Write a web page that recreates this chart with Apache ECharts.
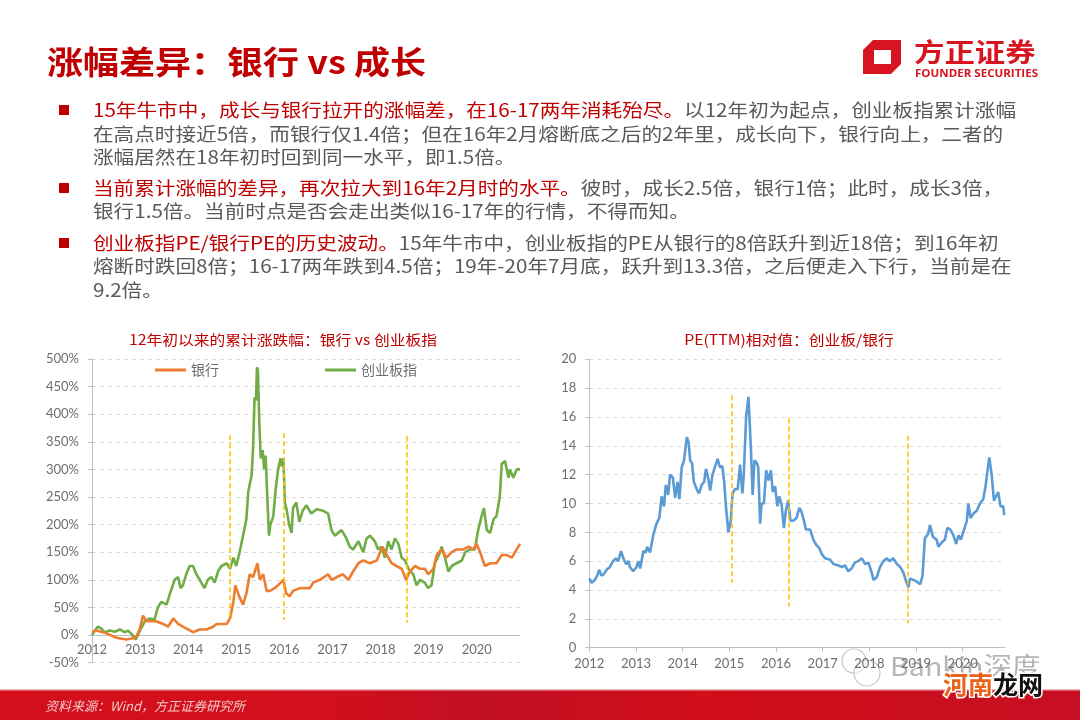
<!DOCTYPE html>
<html><head><meta charset="utf-8">
<script src="https://cdn.jsdelivr.net/npm/echarts@6/dist/echarts.min.js"></script>
<style>html,body{margin:0;padding:0;background:#fff}#c{width:1080px;height:720px}</style>
</head><body><div id="c"></div>
<script>
// ---------- DATA ----------
// Left chart: cumulative change since start of 2012 (%), x = fractional year
const gemYears = [2012.00,2012.06,2012.12,2012.19,2012.26,2012.37,2012.47,2012.58,2012.68,2012.75,2012.82,2012.91,2013.01,2013.10,2013.20,2013.30,2013.37,2013.44,2013.55,2013.62,2013.72,2013.79,2013.84,2013.89,2013.96,2014.03,2014.10,2014.17,2014.24,2014.34,2014.41,2014.48,2014.55,2014.62,2014.69,2014.80,2014.87,2014.94,2015.00,2015.07,2015.14,2015.21,2015.25,2015.32,2015.35,2015.38,2015.41,2015.43,2015.45,2015.48,2015.51,2015.55,2015.58,2015.61,2015.65,2015.68,2015.71,2015.77,2015.82,2015.87,2015.92,2015.95,2015.98,2016.01,2016.04,2016.10,2016.15,2016.18,2016.25,2016.31,2016.38,2016.46,2016.56,2016.67,2016.81,2016.91,2016.98,2017.05,2017.12,2017.19,2017.29,2017.36,2017.43,2017.54,2017.64,2017.71,2017.78,2017.88,2017.95,2018.02,2018.09,2018.16,2018.23,2018.30,2018.37,2018.44,2018.51,2018.58,2018.68,2018.75,2018.82,2018.92,2018.99,2019.06,2019.13,2019.24,2019.27,2019.34,2019.41,2019.48,2019.58,2019.69,2019.76,2019.86,2019.96,2020.03,2020.10,2020.15,2020.21,2020.28,2020.35,2020.41,2020.48,2020.52,2020.59,2020.66,2020.69,2020.76,2020.83,2020.90];
const gemValues = [0,8,15,12,5,8,6,10,5,8,2,-8,10,25,30,28,50,60,55,75,100,105,85,90,110,125,125,110,100,85,100,105,95,115,125,130,120,140,125,150,180,210,260,290,340,430,425,485,480,380,320,335,300,325,240,180,200,215,265,300,320,305,320,240,230,200,185,230,240,205,225,235,220,228,225,220,190,180,185,190,175,160,155,170,150,175,180,170,155,160,140,170,155,175,165,140,135,120,110,90,100,95,85,90,130,150,160,140,115,125,130,135,150,155,155,190,215,230,190,185,210,215,250,310,315,285,300,285,300,300];
const bankYears = [2012.00,2012.09,2012.30,2012.51,2012.71,2012.91,2012.99,2013.06,2013.13,2013.20,2013.34,2013.48,2013.58,2013.69,2013.79,2013.89,2014.00,2014.10,2014.24,2014.38,2014.52,2014.59,2014.80,2014.87,2014.94,2014.98,2015.06,2015.14,2015.21,2015.28,2015.35,2015.44,2015.49,2015.56,2015.63,2015.70,2015.80,2015.87,2015.98,2016.04,2016.11,2016.18,2016.32,2016.53,2016.60,2016.74,2016.91,2016.98,2017.09,2017.22,2017.33,2017.43,2017.54,2017.64,2017.78,2017.92,2018.04,2018.13,2018.23,2018.33,2018.44,2018.53,2018.61,2018.72,2018.82,2018.92,2018.99,2019.10,2019.17,2019.27,2019.37,2019.48,2019.58,2019.72,2019.83,2019.93,2020.00,2020.07,2020.17,2020.28,2020.41,2020.52,2020.62,2020.73,2020.83,2020.90];
const bankValues = [5,8,3,-5,-8,-5,10,35,25,25,25,20,15,30,20,15,10,5,10,10,15,20,20,30,60,90,70,55,75,110,105,130,100,110,80,80,85,90,100,75,70,80,85,85,95,100,110,100,105,110,100,115,130,135,130,135,160,145,130,125,120,100,115,125,120,120,110,120,145,155,140,150,155,155,160,155,165,150,125,130,130,145,145,140,155,165];
// Right chart: PE(TTM) ratio ChiNext / banks
const peYears = [2012.00,2012.05,2012.12,2012.17,2012.21,2012.26,2012.31,2012.37,2012.44,2012.51,2012.57,2012.62,2012.68,2012.73,2012.79,2012.84,2012.87,2012.94,2013.01,2013.05,2013.09,2013.16,2013.21,2013.24,2013.30,2013.37,2013.44,2013.50,2013.55,2013.60,2013.64,2013.69,2013.73,2013.79,2013.84,2013.89,2013.93,2013.98,2014.03,2014.09,2014.13,2014.16,2014.20,2014.24,2014.30,2014.35,2014.41,2014.46,2014.50,2014.55,2014.59,2014.64,2014.69,2014.75,2014.80,2014.85,2014.89,2014.93,2014.98,2015.03,2015.07,2015.12,2015.18,2015.23,2015.28,2015.31,2015.36,2015.41,2015.46,2015.50,2015.54,2015.59,2015.62,2015.66,2015.69,2015.74,2015.79,2015.84,2015.89,2015.93,2015.98,2016.03,2016.07,2016.12,2016.17,2016.21,2016.26,2016.31,2016.37,2016.44,2016.50,2016.55,2016.60,2016.64,2016.73,2016.80,2016.87,2016.93,2016.98,2017.05,2017.16,2017.23,2017.34,2017.41,2017.48,2017.55,2017.62,2017.69,2017.76,2017.84,2017.91,2017.98,2018.05,2018.09,2018.16,2018.23,2018.30,2018.37,2018.44,2018.51,2018.59,2018.66,2018.73,2018.80,2018.84,2018.87,2018.94,2019.01,2019.09,2019.14,2019.19,2019.26,2019.30,2019.36,2019.44,2019.48,2019.55,2019.62,2019.67,2019.73,2019.80,2019.86,2019.91,2019.96,2020.01,2020.09,2020.12,2020.17,2020.23,2020.30,2020.37,2020.44,2020.49,2020.54,2020.57,2020.62,2020.67,2020.71,2020.76,2020.81,2020.87,2020.89];
const peValues = [4.8,4.5,4.7,5.0,5.4,5.0,5.1,5.4,5.6,6.0,6.2,6.0,6.7,6.2,5.8,6.0,5.6,5.3,5.6,6.0,5.5,6.7,6.6,7.0,6.6,7.8,8.6,9.0,10.5,9.8,11.3,10.6,12.0,11.8,10.4,11.5,10.3,12.5,13.0,14.6,14.2,13.0,12.8,11.5,11.0,10.7,11.3,11.5,12.4,11.7,10.9,12.0,12.5,13.1,12.5,12.6,11.5,9.7,8.0,8.8,10.7,11.0,11.0,12.7,10.7,12.0,16.0,17.4,14.0,10.6,13.0,12.8,12.5,8.6,10.0,10.0,12.3,11.6,12.3,10.8,11.2,9.8,10.5,9.9,8.3,9.5,10.2,8.8,8.8,9.0,9.7,9.4,8.8,8.2,8.2,7.5,7.1,6.9,6.5,6.2,6.1,5.8,5.7,5.6,5.7,5.3,5.5,5.9,6.0,6.2,5.8,5.9,5.2,4.7,4.9,5.6,6.0,6.2,6.0,6.2,5.8,5.6,5.2,4.5,4.2,4.8,4.7,4.6,4.4,5.0,7.6,7.9,8.5,7.7,7.5,7.0,7.3,7.5,8.3,8.2,7.8,7.2,7.8,7.5,8.0,8.8,10.0,9.0,9.3,9.5,10.0,10.3,11.2,12.5,13.2,12.0,10.2,10.3,10.8,9.8,9.8,9.2];
// Event marker lines: [year, top value, bottom value]
const leftEvents = [[2014.87, 362, 27], [2015.99, 366, 27], [2018.55, 360, 22]];
const rightEvents = [[2015.05, 17.5, 4.5], [2016.27, 15.9, 2.85], [2018.82, 14.7, 1.7]];
const seriesNames = ['银行', '创业板指', 'PE(TTM)相对值'];
const yearTicks = [2012, 2013, 2014, 2015, 2016, 2017, 2018, 2019, 2020];

// ---------- TEXT ----------
const pageTitle = '涨幅差异：银行 vs 成长';
const leftTitle = '12年初以来的累计涨跌幅：银行 vs 创业板指';
const rightTitle = 'PE(TTM)相对值：创业板/银行';
const sourceText = '资料来源：Wind，方正证券研究所';
const bullets = [
  [['15年牛市中，成长与银行拉开的涨幅差，在16-17两年消耗殆尽。', '以12年初为起点，创业板指累计涨幅'],
   ['', '在高点时接近5倍，而银行仅1.4倍；但在16年2月熔断底之后的2年里，成长向下，银行向上，二者的'],
   ['', '涨幅居然在18年初时回到同一水平，即1.5倍。']],
  [['当前累计涨幅的差异，再次拉大到16年2月时的水平。', '彼时，成长2.5倍，银行1倍；此时，成长3倍，'],
   ['', '银行1.5倍。当前时点是否会走出类似16-17年的行情，不得而知。']],
  [['创业板指PE/银行PE的历史波动。', '15年牛市中，创业板指的PE从银行的8倍跃升到近18倍；到16年初'],
   ['', '熔断时跌回8倍；16-17两年跌到4.5倍；19年-20年7月底，跃升到13.3倍，之后便走入下行，当前是在'],
   ['', '9.2倍。']]
];

// ---------- BUILD ----------
const RED = '#C00000', GRAY = '#595959', AX = '#6e6e6e';
const CJK = '"Noto Sans CJK SC", sans-serif';
const NUM = 'Lato, "Noto Sans", sans-serif';
const SX = 1.125;

const zip = (xs, ys) => xs.map((x, i) => [x, ys[i]]);
const evLines = ev => ev.map(e => [{coord: [e[0], e[1]]}, {coord: [e[0], e[2]]}]);

const graphic = [];
// page title
graphic.push({type: 'text', x: 47, y: 62, scaleX: SX, style: {text: pageTitle, fill: RED, font: 'bold 32px ' + CJK, verticalAlign: 'middle'}});
// bullets
const lineY = [[110, 134, 157], [188, 211], [243, 266, 290]];
bullets.forEach((b, bi) => {
  graphic.push({type: 'rect', shape: {x: 59, y: lineY[bi][0] - 5, width: 10, height: 10}, style: {fill: RED}});
  b.forEach((ln, li) => {
    graphic.push({type: 'text', x: 93, y: lineY[bi][li], scaleX: 1.145, style: {
      text: (ln[0] ? '{r|' + ln[0] + '}' : '') + '{g|' + ln[1] + '}',
      font: '18px ' + CJK, verticalAlign: 'middle',
      rich: {r: {fill: RED, color: RED, fontSize: 18, fontFamily: CJK}, g: {fill: GRAY, color: GRAY, fontSize: 18, fontFamily: CJK}}
    }});
  });
});
// chart titles
graphic.push({type: 'text', x: 283, y: 340, scaleX: SX, style: {text: leftTitle, fill: RED, font: '14px ' + CJK, align: 'center', verticalAlign: 'middle'}});
graphic.push({type: 'text', x: 789, y: 340, scaleX: SX, style: {text: rightTitle, fill: RED, font: '14px ' + CJK, align: 'center', verticalAlign: 'middle'}});
// logo
graphic.push({type: 'polygon', shape: {points: [[873, 40], [901, 40], [901, 64], [891, 74], [863, 74], [863, 50]]}, style: {fill: '#D7141F'}});
graphic.push({type: 'rect', shape: {x: 874, y: 50, width: 17, height: 14}, style: {fill: '#fff'}});
graphic.push({type: 'text', x: 914, y: 52, scaleX: 1.17, style: {text: '方正证券', fill: '#D7141F', font: 'bold 26px ' + CJK, verticalAlign: 'middle'}});
graphic.push({type: 'text', x: 915, y: 74, scaleX: 1.1, style: {text: 'FOUNDER SECURITIES', fill: '#D7141F', font: 'bold 10.5px "Open Sans", sans-serif', verticalAlign: 'middle'}});
// footer band
graphic.push({type: 'rect', shape: {x: 0, y: 690, width: 1080, height: 30}, style: {fill: {type: 'linear', x: 0, y: 0, x2: 1, y2: 0, colorStops: [{offset: 0, color: '#D40F1B'}, {offset: 0.3, color: '#D20F1C'}, {offset: 0.45, color: '#C10F24'}, {offset: 0.65, color: '#D10E1A'}, {offset: 1, color: '#C70F22'}]}}});
graphic.push({type: 'rect', shape: {x: 0, y: 689, width: 1080, height: 1.5}, style: {fill: '#e9b3b6'}});
graphic.push({type: 'text', x: 45, y: 706, style: {text: sourceText, fill: '#f3c6c8', font: 'italic 13px ' + CJK, verticalAlign: 'middle'}});
// watermark
graphic.push({type: 'circle', shape: {cx: 854, cy: 661, r: 12}, style: {fill: 'rgba(255,255,255,0.5)', stroke: '#c8c8c8', lineWidth: 1.2}});
graphic.push({type: 'circle', shape: {cx: 867, cy: 673, r: 13}, style: {fill: 'rgba(255,255,255,0.5)', stroke: '#c8c8c8', lineWidth: 1.2}});
graphic.push({type: 'text', x: 890, y: 666, scaleX: 1.1, style: {text: 'Bankin深度', fill: 'rgba(120,120,120,0.55)', font: '26px ' + CJK, verticalAlign: 'middle'}});
graphic.push({type: 'text', x: 943, y: 684, style: {text: '{a|河南}{b|龙网}', font: 'bold 25px ' + CJK, verticalAlign: 'middle',
  rich: {a: {fill: '#E8641B', stroke: '#fff', lineWidth: 3, fontSize: 25, fontWeight: 'bold', fontFamily: CJK}, b: {fill: '#111', stroke: '#fff', lineWidth: 3, fontSize: 25, fontWeight: 'bold', fontFamily: CJK}}}});

const yearFmt = v => (Math.abs(v - Math.round(v)) < 1e-6 && yearTicks.indexOf(Math.round(v)) >= 0) ? String(Math.round(v)) : '';
const yAxisBase = (gi, min, max, interval, fmt) => ({
  type: 'value', gridIndex: gi, min, max, interval,
  axisLine: {show: true, lineStyle: {color: '#BFBFBF'}},
  axisTick: {show: true, length: 4, lineStyle: {color: '#BFBFBF'}},
  axisLabel: {formatter: fmt, color: AX, fontSize: 13, fontFamily: NUM, margin: 13},
  splitLine: {show: true, lineStyle: {color: '#D9D9D9', type: [4, 4], width: 1}}
});
const markLineCfg = ev => ({
  silent: true, symbol: ['none', 'none'], label: {show: false},
  lineStyle: {color: '#FFC000', type: [5, 3], width: 1.6}, emphasis: {disabled: true},
  data: evLines(ev)
});

const option = {
  animation: false,
  backgroundColor: '#fff',
  textStyle: {fontFamily: CJK},
  grid: [
    {left: 92, top: 359, width: 428, height: 303.6},
    {left: 589.3, top: 359.3, width: 415.4, height: 288.4}
  ],
  legend: {
    data: [seriesNames[0], seriesNames[1]], left: 150, top: 358,
    icon: 'rect', itemWidth: 31, itemHeight: 3, itemGap: 106,
    textStyle: {color: AX, fontSize: 14, fontFamily: CJK}
  },
  xAxis: [
    // left: Excel-style category labels sitting just under the 0% line
    {type: 'value', gridIndex: 0, min: 2012, max: 2020.9, interval: 1,
     axisLine: {show: false}, axisTick: {show: false}, splitLine: {show: false},
     axisLabel: {formatter: yearFmt, color: AX, fontSize: 13, fontFamily: NUM, margin: -19, showMaxLabel: false}},
    {type: 'value', gridIndex: 1, min: 2012, max: 2020.9, interval: 1,
     axisLine: {show: true, lineStyle: {color: '#BFBFBF', width: 1}},
     axisTick: {show: true, length: 4, lineStyle: {color: '#BFBFBF'}}, splitLine: {show: false},
     axisLabel: {formatter: yearFmt, color: AX, fontSize: 13, fontFamily: NUM, margin: 10, showMaxLabel: false}}
  ],
  yAxis: [
    yAxisBase(0, -50, 500, 50, '{value}%'),
    yAxisBase(1, 0, 20, 2, '{value}')
  ],
  graphic: graphic,
  series: [
    {name: seriesNames[0], type: 'line', xAxisIndex: 0, yAxisIndex: 0, data: zip(bankYears, bankValues),
     showSymbol: false, symbol: 'none', lineStyle: {color: '#ED7D31', width: 2.6}, itemStyle: {color: '#ED7D31'}, z: 3,
     markLine: {silent: true, z: 1, symbol: ['none', 'none'], label: {show: false}, emphasis: {disabled: true},
       lineStyle: {color: '#BFBFBF', type: 'solid', width: 1}, data: [{yAxis: 0}]}},
    {name: seriesNames[1], type: 'line', xAxisIndex: 0, yAxisIndex: 0, data: zip(gemYears, gemValues),
     showSymbol: false, symbol: 'none', lineStyle: {color: '#70AD47', width: 2.6}, itemStyle: {color: '#70AD47'}, z: 2,
     markLine: markLineCfg(leftEvents)},
    {name: seriesNames[2], type: 'line', xAxisIndex: 1, yAxisIndex: 1, data: zip(peYears, peValues),
     showSymbol: false, symbol: 'none', lineStyle: {color: '#5B9BD5', width: 2.6}, itemStyle: {color: '#5B9BD5'},
     markLine: markLineCfg(rightEvents)}
  ]
};
const chart = echarts.init(document.getElementById('c'), null, {renderer: 'canvas'});
chart.setOption(option);
</script>
</body></html>
